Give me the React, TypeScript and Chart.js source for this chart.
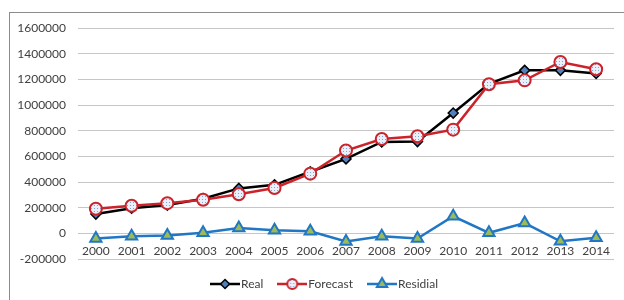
import { useEffect, useRef } from "react";
import { Chart, registerables } from "chart.js";

Chart.register(...registerables);

const years = ["2000", "2001", "2002", "2003", "2004", "2005", "2006", "2007", "2008", "2009", "2010", "2011", "2012", "2013", "2014"];
const realValues = [150000, 195000, 220000, 270000, 350000, 378000, 480000, 580000, 712000, 715000, 937000, 1165000, 1270000, 1270000, 1245000];
const forecastValues = [192000, 215000, 235000, 262000, 305000, 353000, 465000, 645000, 735000, 756000, 808000, 1162000, 1192000, 1335000, 1278000];
const residualValues = [-40000, -22000, -16000, 5000, 42000, 24000, 16000, -64000, -23000, -41000, 133000, 4000, 80000, -62000, -34000];
const seriesNames = ["Real", "Forecast", "Residial"];
const yMin = -200000;
const yMax = 1600000;
const yStep = 200000;

const FONT = "Lato, 'Open Sans', sans-serif";
const TEXT = "#404040";
const GRID = "#c6c6c6";
const REAL_LINE = "#000000";
const REAL_FILL = "#4f81bd";
const FC_LINE = "#cc2229";
const RES_LINE = "#2177c4";
const RES_FILL = "#9bbb59";

function makePattern(): CanvasPattern | string {
  const c = document.createElement("canvas");
  c.width = 3;
  c.height = 3;
  const g = c.getContext("2d");
  if (!g) return "#dce6f2";
  g.fillStyle = "#eaf0f9";
  g.fillRect(0, 0, 3, 3);
  g.fillStyle = "#7fa3d3";
  g.fillRect(1, 1, 1, 1);
  return g.createPattern(c, "repeat") || "#dce6f2";
}

function legendIcon(kind: number, pattern: CanvasPattern | string): HTMLCanvasElement {
  const c = document.createElement("canvas");
  c.width = 30;
  c.height = 16;
  const g = c.getContext("2d")!;
  const cy = 8;
  const cx = 15;
  const colors = [REAL_LINE, FC_LINE, RES_LINE];
  g.lineWidth = 2.5;
  g.strokeStyle = colors[kind];
  g.beginPath();
  g.moveTo(0, cy);
  g.lineTo(30, cy);
  g.stroke();
  g.beginPath();
  if (kind === 0) {
    const r = 4.5;
    g.moveTo(cx - r, cy);
    g.lineTo(cx, cy - r);
    g.lineTo(cx + r, cy);
    g.lineTo(cx, cy + r);
    g.closePath();
    g.fillStyle = REAL_FILL;
    g.fill();
    g.lineWidth = 1.5;
    g.strokeStyle = REAL_LINE;
    g.stroke();
  } else if (kind === 1) {
    g.arc(cx, cy, 5, 0, Math.PI * 2);
    g.fillStyle = pattern as any;
    g.fill();
    g.lineWidth = 2;
    g.strokeStyle = FC_LINE;
    g.stroke();
  } else {
    const r = 6;
    g.moveTo(cx, cy - r);
    g.lineTo(cx + r * Math.cos(Math.PI / 6), cy + r * 0.5);
    g.lineTo(cx - r * Math.cos(Math.PI / 6), cy + r * 0.5);
    g.closePath();
    g.fillStyle = RES_FILL;
    g.fill();
    g.lineWidth = 2;
    g.strokeStyle = RES_LINE;
    g.stroke();
  }
  return c;
}

const legendShift = {
  id: "legendShift",
  afterLayout(chart: any) {
    if (chart.legend) chart.legend.left += 39;
  },
};

export default function App() {
  const ref = useRef<HTMLCanvasElement>(null);

  useEffect(() => {
    if (!ref.current) return;
    const pattern = makePattern();
    const icons = [0, 1, 2].map((k) => legendIcon(k, pattern));
    const chart = new Chart(ref.current, {
      type: "line",
      data: {
        labels: years,
        datasets: [
          {
            label: seriesNames[0],
            data: realValues,
            borderColor: REAL_LINE,
            borderWidth: 2.5,
            pointStyle: "rectRot",
            pointRadius: 5,
            pointBackgroundColor: REAL_FILL,
            pointBorderColor: REAL_LINE,
            pointBorderWidth: 1.5,
            fill: false,
            tension: 0,
            order: 2,
          },
          {
            label: seriesNames[1],
            data: forecastValues,
            borderColor: FC_LINE,
            borderWidth: 2.5,
            pointStyle: "circle",
            pointRadius: 6,
            pointBackgroundColor: pattern as any,
            pointBorderColor: FC_LINE,
            pointBorderWidth: 2,
            fill: false,
            tension: 0,
            order: 1,
          },
          {
            label: seriesNames[2],
            data: residualValues,
            borderColor: RES_LINE,
            borderWidth: 2.5,
            pointStyle: "triangle",
            pointRadius: 6.5,
            pointBackgroundColor: RES_FILL,
            pointBorderColor: RES_LINE,
            pointBorderWidth: 2,
            fill: false,
            tension: 0,
            order: 3,
          },
        ],
      },
      options: {
        animation: false,
        responsive: false,
        layout: { padding: { top: 28, left: 0, right: 10, bottom: 0 } },
        plugins: {
          legend: {
            position: "bottom",
            labels: {
              usePointStyle: true,
              pointStyleWidth: 20,
              padding: 19,
              color: TEXT,
              font: { family: FONT, size: 12 },
              generateLabels: () =>
                seriesNames.map((name, i) => ({
                  text: name,
                  pointStyle: icons[i] as any,
                  fillStyle: "transparent",
                  strokeStyle: "transparent",
                  lineWidth: 0,
                  hidden: false,
                  datasetIndex: i,
                  fontColor: TEXT,
                })),
            },
          },
          tooltip: { enabled: false },
        },
        scales: {
          x: {
            type: "category",
            position: { y: 0 } as any,
            offset: true,
            grid: { display: false },
            border: { display: false },
            ticks: {
              font: { family: FONT, size: 12 },
              color: TEXT,
              padding: 3,
              maxRotation: 0,
              autoSkip: false,
            },
          },
          y: {
            min: yMin,
            max: yMax,
            grid: { color: GRID, drawTicks: false },
            border: { display: false },
            ticks: {
              stepSize: yStep,
              padding: 12,
              font: { family: FONT, size: 12 },
              color: TEXT,
              callback: (v: any) => String(v),
            },
            afterFit: (s: any) => {
              s.width = 78;
            },
          },
        },
      },
      plugins: [legendShift],
    });
    return () => chart.destroy();
  }, []);

  return (
    <div style={{ position: "absolute", left: 0, top: 0, width: 624, height: 300, background: "#ffffff" }}>
      <div
        style={{
          position: "absolute",
          left: 9,
          top: 12,
          width: 614,
          height: 287,
          borderLeft: "1px solid #8c8c8c",
          borderTop: "1px solid #8c8c8c",
        }}
      />
      <canvas ref={ref} width={624} height={300} style={{ position: "absolute", left: 0, top: 0 }} />
    </div>
  );
}
